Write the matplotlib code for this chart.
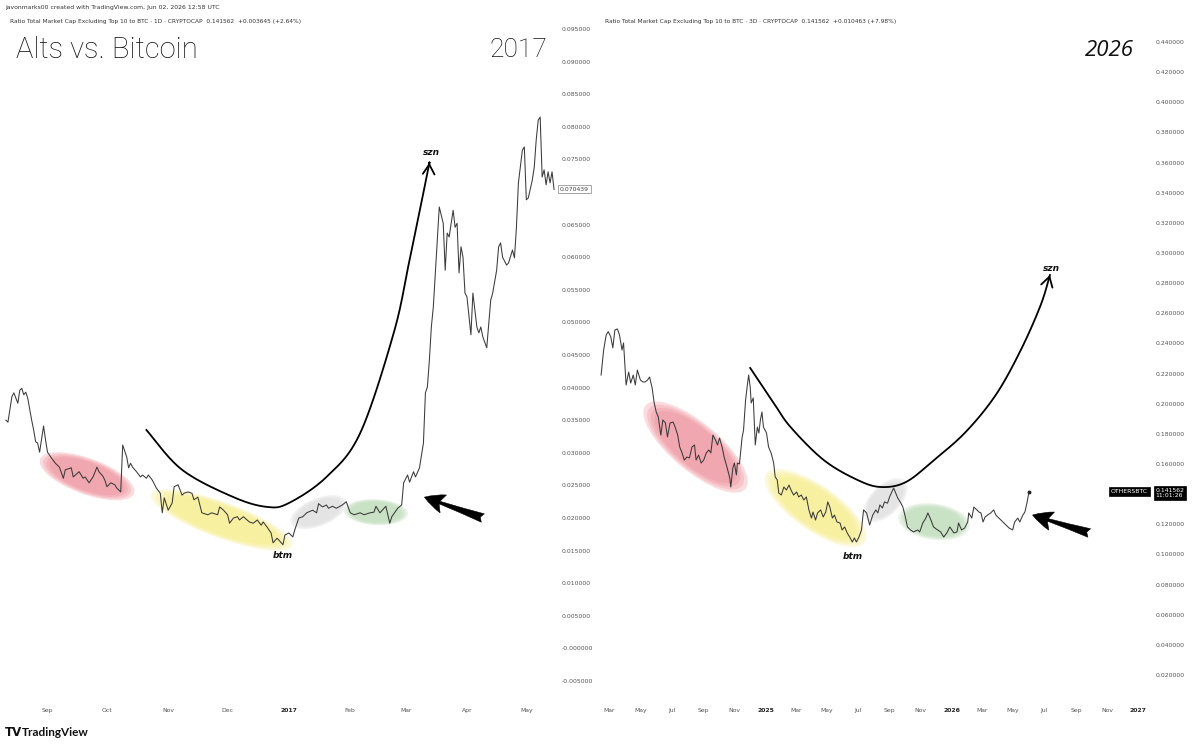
import numpy as np
import pandas as pd
import matplotlib
matplotlib.use("Agg")
import matplotlib.pyplot as plt
import matplotlib.dates as mdates
import matplotlib.transforms as mtransforms
from matplotlib.patches import Ellipse, FancyArrowPatch
from matplotlib.ticker import FuncFormatter

# ---- data ----
LEFT_START = "2016-08-11"   # daily candles, x = days after this date
left_day = [0, 1, 3, 4, 6, 7, 8, 9, 10, 11,
            13, 14, 15, 16, 17, 19, 20, 21, 23, 25,
            27, 29, 30, 33, 34, 37, 39, 40, 42, 44,
            46, 47, 49, 50, 51, 53, 55, 56, 58, 59,
            61, 62, 63, 64, 66, 68, 69, 71, 72, 74,
            76, 78, 79, 80, 82, 84, 85, 87, 89, 90,
            92, 94, 95, 97, 99, 102, 104, 107, 108, 110,
            112, 113, 115, 117, 118, 120, 123, 125, 127, 129,
            130, 132, 134, 135, 137, 138, 140, 141, 143, 145,
            146, 148, 150, 152, 155, 157, 158, 160, 162, 163,
            165, 167, 170, 172, 174, 176, 179, 181, 184, 186,
            187, 189, 192, 194, 195, 198, 200, 201, 203, 204,
            206, 207, 209, 211, 212, 213, 214, 215, 216, 217,
            218, 219, 221, 222, 223, 224, 226, 227, 228, 229,
            230, 231, 232, 233, 235, 236, 238, 239, 240, 241,
            243, 245, 246, 248, 249, 250, 251, 253, 254, 256,
            257, 258, 259, 261, 262, 263, 264, 266, 267, 268,
            269, 270, 271, 272, 273, 274, 275, 276, 277]
left_val = [0.0350, 0.0347, 0.0386, 0.0392, 0.0376, 0.0396, 0.0399, 0.0389, 0.0393, 0.0384,
            0.0350, 0.0335, 0.0317, 0.0315, 0.0301, 0.0341, 0.0320, 0.0301, 0.0292, 0.0284,
            0.0278, 0.0261, 0.0274, 0.0277, 0.0263, 0.0271, 0.0261, 0.0263, 0.0254, 0.0263,
            0.0278, 0.0271, 0.0264, 0.0258, 0.0248, 0.0254, 0.0251, 0.0246, 0.0240, 0.0312,
            0.0294, 0.0277, 0.0284, 0.0278, 0.0271, 0.0263, 0.0266, 0.0261, 0.0266, 0.0258,
            0.0246, 0.0238, 0.0208, 0.0231, 0.0212, 0.0223, 0.0248, 0.0251, 0.0235, 0.0238,
            0.0240, 0.0238, 0.0228, 0.0232, 0.0208, 0.0205, 0.0208, 0.0205, 0.0217, 0.0212,
            0.0205, 0.0192, 0.0200, 0.0202, 0.0197, 0.0202, 0.0194, 0.0192, 0.0197, 0.0189,
            0.0194, 0.0186, 0.0177, 0.0162, 0.0169, 0.0166, 0.0159, 0.0174, 0.0177, 0.0171,
            0.0182, 0.0200, 0.0202, 0.0208, 0.0212, 0.0208, 0.0222, 0.0217, 0.0220, 0.0215,
            0.0218, 0.0215, 0.0220, 0.0225, 0.0208, 0.0205, 0.0208, 0.0205, 0.0208, 0.0209,
            0.0218, 0.0208, 0.0218, 0.0192, 0.0202, 0.0215, 0.0220, 0.0254, 0.0266, 0.0255,
            0.0271, 0.0263, 0.0277, 0.0315, 0.0392, 0.0401, 0.0442, 0.0493, 0.0524, 0.0576,
            0.0626, 0.0677, 0.0652, 0.0580, 0.0637, 0.0631, 0.0672, 0.0646, 0.0652, 0.0576,
            0.0616, 0.0600, 0.0545, 0.0539, 0.0481, 0.0545, 0.0493, 0.0484, 0.0493, 0.0478,
            0.0461, 0.0534, 0.0545, 0.0580, 0.0616, 0.0622, 0.0600, 0.0588, 0.0591, 0.0611,
            0.0599, 0.0646, 0.0714, 0.0764, 0.0769, 0.0688, 0.0691, 0.0718, 0.0738, 0.0780,
            0.0810, 0.0815, 0.0723, 0.0734, 0.0711, 0.0731, 0.0714, 0.0731, 0.0704]

RIGHT_START = "2024-02-14"  # 3D candles, x = days after this date
right_day = [0, 5, 10, 14, 19, 23, 27, 32, 36, 41,
             44, 49, 54, 58, 63, 67, 71, 77, 82, 86,
             91, 95, 100, 104, 108, 112, 117, 121, 126, 130,
             135, 141, 145, 150, 154, 158, 163, 168, 173, 178,
             183, 186, 191, 196, 201, 206, 211, 215, 219, 224,
             228, 232, 237, 241, 247, 252, 254, 258, 261, 265,
             267, 271, 276, 279, 283, 286, 289, 292, 294, 298,
             302, 306, 309, 312, 315, 318, 324, 328, 333, 338,
             341, 345, 348, 353, 358, 363, 368, 372, 377, 383,
             387, 392, 397, 402, 407, 412, 415, 420, 424, 430,
             435, 440, 444, 448, 453, 457, 462, 468, 472, 477,
             482, 487, 492, 496, 500, 505, 510, 514, 520, 526,
             532, 538, 542, 546, 551, 555, 561, 565, 571, 573,
             577, 581, 587, 591, 595, 600, 606, 612, 620, 624,
             630, 636, 640, 646, 651, 659, 665, 671, 677, 683,
             691, 697, 700, 706, 712, 718, 720, 726, 730, 736,
             740, 744, 748, 752, 757, 763, 769, 773, 779, 787,
             793, 799, 806, 810, 816, 820, 826, 830, 834, 838]
right_val = [0.2190, 0.2356, 0.2456, 0.2478, 0.2444, 0.2370, 0.2489, 0.2496, 0.2456, 0.2356,
             0.2403, 0.2124, 0.2210, 0.2137, 0.2190, 0.2124, 0.2223, 0.2157, 0.2144, 0.2144,
             0.2157, 0.2177, 0.2104, 0.2005, 0.1945, 0.1912, 0.1792, 0.1892, 0.1872, 0.1779,
             0.1872, 0.1878, 0.1845, 0.1792, 0.1712, 0.1679, 0.1626, 0.1646, 0.1640, 0.1712,
             0.1726, 0.1626, 0.1659, 0.1606, 0.1626, 0.1673, 0.1693, 0.1673, 0.1792, 0.1759,
             0.1726, 0.1772, 0.1712, 0.1646, 0.1573, 0.1507, 0.1447, 0.1573, 0.1606, 0.1527,
             0.1606, 0.1600, 0.1772, 0.1825, 0.2024, 0.2111, 0.2190, 0.2111, 0.2005, 0.2038,
             0.1726, 0.1845, 0.1805, 0.1892, 0.1945, 0.1845, 0.1805, 0.1712, 0.1673, 0.1606,
             0.1514, 0.1494, 0.1407, 0.1394, 0.1447, 0.1427, 0.1460, 0.1427, 0.1394, 0.1414,
             0.1381, 0.1394, 0.1361, 0.1381, 0.1295, 0.1241, 0.1281, 0.1228, 0.1275, 0.1295,
             0.1248, 0.1281, 0.1348, 0.1314, 0.1241, 0.1261, 0.1215, 0.1208, 0.1162, 0.1182,
             0.1142, 0.1115, 0.1082, 0.1109, 0.1082, 0.1115, 0.1162, 0.1295, 0.1275, 0.1195,
             0.1261, 0.1295, 0.1275, 0.1328, 0.1308, 0.1348, 0.1340, 0.1381, 0.1427, 0.1440,
             0.1407, 0.1374, 0.1341, 0.1314, 0.1261, 0.1182, 0.1162, 0.1149, 0.1162, 0.1149,
             0.1208, 0.1241, 0.1275, 0.1228, 0.1182, 0.1162, 0.1149, 0.1115, 0.1142, 0.1182,
             0.1142, 0.1149, 0.1208, 0.1162, 0.1175, 0.1215, 0.1275, 0.1241, 0.1314, 0.1295,
             0.1281, 0.1275, 0.1215, 0.1248, 0.1261, 0.1275, 0.1295, 0.1261, 0.1241, 0.1215,
             0.1195, 0.1175, 0.1162, 0.1215, 0.1241, 0.1215, 0.1261, 0.1281, 0.1341, 0.1416]

LEFT_LAST = 0.070439
RIGHT_LAST = 0.141562

left_xticks = ["2016-09-01", "2016-10-01", "2016-11-01", "2016-12-01", "2017-01-01",
               "2017-02-01", "2017-03-01", "2017-04-01", "2017-05-01"]
left_xlabels = ["Sep", "Oct", "Nov", "Dec", "2017", "Feb", "Mar", "Apr", "May"]
right_xticks = ["2024-03-01", "2024-05-01", "2024-07-01", "2024-09-01", "2024-11-01",
                "2025-01-01", "2025-03-01", "2025-05-01", "2025-07-01", "2025-09-01",
                "2025-11-01", "2026-01-01", "2026-03-01", "2026-05-01", "2026-07-01",
                "2026-09-01", "2026-11-01", "2027-01-01"]
right_xlabels = ["Mar", "May", "Jul", "Sep", "Nov", "2025", "Mar", "May", "Jul", "Sep",
                 "Nov", "2026", "Mar", "May", "Jul", "Sep", "Nov", "2027"]
left_yticks = np.arange(-0.005, 0.0951, 0.005)
# 0.14 sits under the last-price tag, so it is not shown
right_yticks = [0.02, 0.04, 0.06, 0.08, 0.10, 0.12, 0.16, 0.18, 0.20, 0.22, 0.24,
                0.26, 0.28, 0.30, 0.32, 0.34, 0.36, 0.38, 0.40, 0.42, 0.44]

W, H = 1200, 749
fig = plt.figure(figsize=(12, 7.49), dpi=100)
fig.patch.set_facecolor("white")


def px_axes(x0, y0, x1, y1):
    return fig.add_axes([x0 / W, 1 - y1 / H, (x1 - x0) / W, (y1 - y0) / H])


def dnum(s):
    return mdates.date2num(pd.Timestamp(s))


def smooth(xs, ys, n=24):
    # catmull-rom through the guide points
    p = np.column_stack([xs, ys]).astype(float)
    p = np.vstack([p[0], p, p[-1]])
    out = []
    t = np.linspace(0, 1, n, endpoint=False)[:, None]
    for i in range(1, len(p) - 2):
        p0, p1, p2, p3 = p[i - 1], p[i], p[i + 1], p[i + 2]
        out.append(0.5 * (2 * p1 + (p2 - p0) * t + (2 * p0 - 5 * p1 + 4 * p2 - p3) * t ** 2
                          + (3 * p1 - p0 - 3 * p2 + p3) * t ** 3))
    out.append(p[-2][None])
    return np.vstack(out)


def blob(ax, x, y, w, h, ang, color):
    tr = fig.dpi_scale_trans + mtransforms.ScaledTranslation(x, y, ax.transData)
    for k in range(4):
        s = 1 - 0.07 * k
        ax.add_patch(Ellipse((0, 0), w * s / 100, h * s / 100, angle=ang, transform=tr,
                             fc=color, ec="none", alpha=0.3, zorder=1))


def style(ax, ticks, labels, yticks, fmt, clip=None):
    for s in ax.spines.values():
        s.set_visible(False)
    ax.set_facecolor("none")
    ax.yaxis.tick_right()
    ax.set_yticks(yticks)
    ax.yaxis.set_major_formatter(FuncFormatter(fmt))
    ax.set_xticks([dnum(t) for t in ticks])
    ax.set_xticklabels(labels)
    ax.tick_params(length=0, labelsize=4.4, colors="#555555")
    ax.tick_params(axis="x", pad=8)
    ax.tick_params(axis="y", pad=4)
    for t in ax.get_xticklabels():
        if t.get_text().isdigit():
            t.set_fontweight("bold")
            t.set_color("#222222")
        if clip is not None:
            t.set_clip_box(clip)
            t.set_clip_on(True)


# ---------------- left panel: 2017 ----------------
ax1 = px_axes(2, 20, 556, 697)
lx = dnum(LEFT_START) + np.array(left_day)
ax1.set_xlim(dnum("2016-08-09"), dnum("2017-05-16"))
ax1.set_ylim(-0.00745, 0.09638)
ax1.set_autoscale_on(False)
ax1.plot(lx, left_val, color="#3a3a3a", lw=0.75, zorder=3)
style(ax1, left_xticks, left_xlabels, left_yticks,
      lambda v, p: "-0.000000" if abs(v) < 1e-9 else f"{v:.6f}")

l0 = dnum(LEFT_START)
blob(ax1, l0 + 41, 0.0264, 100, 36, -20, "#ef8e98")
blob(ax1, l0 + 109, 0.0197, 150, 36, -20, "#f7ec86")
blob(ax1, l0 + 158, 0.0209, 60, 28, 22, "#dddddd")
blob(ax1, l0 + 187, 0.0209, 64, 26, -3, "#b9d9b3")

curve_l = smooth(l0 + np.array([71, 89, 115, 132, 143, 162, 179, 196, 204, 213, 214]),
                 [0.0335, 0.0274, 0.0232, 0.0217, 0.0223, 0.0263, 0.0330, 0.0484, 0.0596, 0.0729, 0.0745])
ax1.plot(curve_l[:, 0], curve_l[:, 1], color="black", lw=1.3, zorder=4)
ax1.annotate("", xy=curve_l[-1], xytext=curve_l[-6],
             arrowprops=dict(arrowstyle="->,head_length=0.5,head_width=0.3", lw=1.3,
                             color="black", shrinkA=0, shrinkB=0, mutation_scale=14), zorder=4)
ax1.text(l0 + 215, 0.0760, "szn", fontsize=6.5, weight="bold", style="italic",
         ha="center", va="center", color="#111111")
ax1.text(l0 + 140, 0.0143, "btm", fontsize=6.5, weight="bold", style="italic",
         ha="center", va="center", color="#111111")
ax1.add_patch(FancyArrowPatch((l0 + 241, 0.0200), (l0 + 211.5, 0.0232),
                              arrowstyle="fancy,head_length=0.9,head_width=0.85,tail_width=0.4",
                              mutation_scale=16, fc="black", ec="black", lw=0.4,
                              shrinkA=0, shrinkB=0, zorder=5))

ax1.text(14 / 554, 0.955, "Alts vs. Bitcoin", transform=ax1.transAxes, family="Roboto",
         weight="light", fontsize=21, ha="left", va="center", color="#111111")
ax1.text(0.985, 0.955, "2017", transform=ax1.transAxes, family="Roboto",
         weight="light", fontsize=19, ha="right", va="center", color="#111111")

bl1 = mtransforms.blended_transform_factory(ax1.transAxes, ax1.transData)
ax1.text(1 + 4 / 554, LEFT_LAST, "0.070439", transform=bl1, fontsize=4.4, color="#444444",
         ha="left", va="center", clip_on=False,
         bbox=dict(boxstyle="square,pad=0.3", fc="white", ec="#999999", lw=0.6))

# ---------------- right panel: 2026 ----------------
ax2 = px_axes(597, 20, 1150, 697)
r0 = dnum(RIGHT_START)
rx = r0 + np.array(right_day)
ax2.set_xlim(dnum("2024-02-06"), dnum("2027-01-24"))
ax2.set_ylim(0.00536, 0.4546)
ax2.set_autoscale_on(False)
ax2.plot(rx, right_val, color="#3a3a3a", lw=0.75, zorder=3)
ax2.plot(rx[-1], right_val[-1], "o", ms=1.8, color="#222222", zorder=3)
clip_r = mtransforms.TransformedBbox(mtransforms.Bbox([[599 / W, 0], [1, 1]]), fig.transFigure)
style(ax2, right_xticks, right_xlabels, right_yticks, lambda v, p: f"{v:.6f}", clip=clip_r)

blob(ax2, r0 + 185, 0.1712, 130, 48, -40, "#ef8e98")
blob(ax2, r0 + 420, 0.1308, 120, 45, -35, "#f7ec86")
blob(ax2, r0 + 557, 0.1361, 55, 30, 45, "#dddddd")
blob(ax2, r0 + 652, 0.1217, 72, 36, -8, "#b9d9b3")

curve_r = smooth(r0 + np.array([292, 338, 371, 436, 502, 548, 597, 652, 714, 773, 822, 861, 879]),
                 [0.2237, 0.2005, 0.1845, 0.1626, 0.1494, 0.1447, 0.1480, 0.1626, 0.1812,
                  0.2058, 0.2356, 0.2655, 0.2854])
ax2.plot(curve_r[:, 0], curve_r[:, 1], color="black", lw=1.3, zorder=4)
ax2.annotate("", xy=curve_r[-1], xytext=curve_r[-6],
             arrowprops=dict(arrowstyle="->,head_length=0.5,head_width=0.3", lw=1.3,
                             color="black", shrinkA=0, shrinkB=0, mutation_scale=14), zorder=4)
ax2.text(r0 + 881, 0.2900, "szn", fontsize=6.5, weight="bold", style="italic",
         ha="center", va="center", color="#111111")
ax2.text(r0 + 492, 0.0983, "btm", fontsize=6.5, weight="bold", style="italic",
         ha="center", va="center", color="#111111")
ax2.add_patch(FancyArrowPatch((r0 + 956, 0.1142), (r0 + 845, 0.1261),
                              arrowstyle="fancy,head_length=0.9,head_width=0.85,tail_width=0.4",
                              mutation_scale=16, fc="black", ec="black", lw=0.4,
                              shrinkA=0, shrinkB=0, zorder=5))

ax2.text(0.97, 0.955, "2026", transform=ax2.transAxes, family="Open Sans",
         style="italic", fontsize=16, ha="right", va="center", color="#111111")

bl2 = mtransforms.blended_transform_factory(ax2.transAxes, ax2.transData)
ax2.text(1 - 2 / 553, RIGHT_LAST, "OTHERSBTC", transform=bl2, fontsize=4.4, color="white",
         ha="right", va="center", zorder=6,
         bbox=dict(boxstyle="square,pad=0.3", fc="black", ec="black", lw=0.5))
ax2.annotate("0.141562\n11:01:26", xy=(1, RIGHT_LAST), xycoords=bl2, xytext=(4, 3),
             textcoords="offset points", fontsize=4.4, color="white", ha="left", va="top",
             linespacing=1.1, annotation_clip=False,
             bbox=dict(boxstyle="square,pad=0.3", fc="black", ec="black", lw=0.5))

# ---------------- header / footer ----------------
fig.text(5 / W, 1 - 7 / H, "javonmarks00 created with TradingView.com, Jun 02, 2026 12:58 UTC",
         fontsize=4.4, color="#333333", va="center")
fig.text(10 / W, 1 - 22 / H,
         "Ratio Total Market Cap Excluding Top 10 to BTC · 1D · CRYPTOCAP  0.141562  +0.003645 (+2.64%)",
         fontsize=4.2, color="#333333", va="center")
fig.text(605 / W, 1 - 22 / H,
         "Ratio Total Market Cap Excluding Top 10 to BTC · 3D · CRYPTOCAP  0.141562  +0.010463 (+7.98%)",
         fontsize=4.2, color="#333333", va="center")
fig.text(5 / W, 1 - 733 / H, "TV", fontsize=8.5, weight="heavy", color="#111111", va="center")
fig.text(22 / W, 1 - 733 / H, "TradingView", family="Lato", fontsize=8.5, weight="bold",
         color="#111111", va="center")

fig.savefig("out.png", dpi=100, facecolor="white")
